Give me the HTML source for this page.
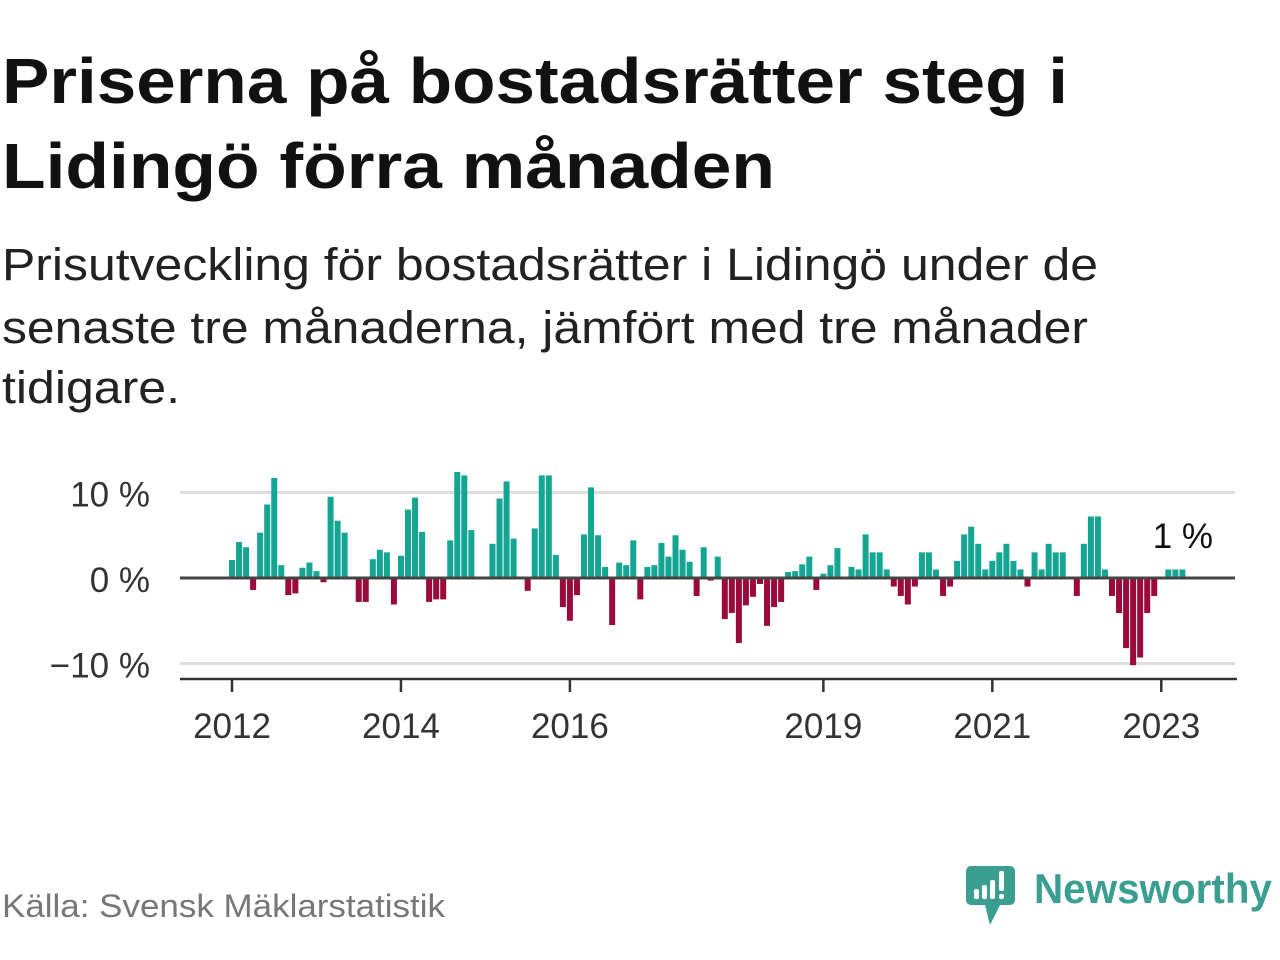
<!DOCTYPE html>
<html><head><meta charset="utf-8">
<style>
html,body{margin:0;padding:0;background:#fff;}
svg{display:block;font-family:"Liberation Sans",sans-serif;}
</style></head>
<body>
<svg width="1280" height="960" viewBox="0 0 1280 960" xmlns="http://www.w3.org/2000/svg">
  <text x="2" y="103" font-size="64" font-weight="bold" fill="#111" textLength="1066" lengthAdjust="spacingAndGlyphs">Priserna på bostadsrätter steg i</text>
  <text x="2" y="188" font-size="64" font-weight="bold" fill="#111" textLength="773" lengthAdjust="spacingAndGlyphs">Lidingö förra månaden</text>
  <text x="2" y="280" font-size="45" fill="#222" textLength="1096" lengthAdjust="spacingAndGlyphs">Prisutveckling för bostadsrätter i Lidingö under de</text>
  <text x="2" y="343" font-size="45" fill="#222" textLength="1086" lengthAdjust="spacingAndGlyphs">senaste tre månaderna, jämfört med tre månader</text>
  <text x="2" y="403" font-size="45" fill="#222" textLength="178" lengthAdjust="spacingAndGlyphs">tidigare.</text>

  <g id="chart"></g>

  <text x="2" y="917" font-size="32" fill="#777" textLength="443" lengthAdjust="spacingAndGlyphs">Källa: Svensk Mäklarstatistik</text>

  <g>
    <path d="M971 866 H1010 a5 5 0 0 1 5 5 V900 a5 5 0 0 1 -5 5 H1000 L990 925 L985 905 H971 a5 5 0 0 1 -5 -5 V871 a5 5 0 0 1 5 -5 Z" fill="#3a9e91"/>
    <rect x="974" y="889" width="5" height="10" rx="2" fill="#fff"/>
    <rect x="982" y="885" width="5" height="14" rx="2" fill="#fff"/>
    <rect x="990" y="880" width="5" height="19" rx="2" fill="#fff"/>
    <rect x="999" y="871" width="5" height="20" rx="2" fill="#fff"/>
    <rect x="999" y="894" width="5" height="5" rx="2" fill="#fff"/>
    <text x="1034" y="903" font-size="42" font-weight="bold" fill="#3a9e91" textLength="238" lengthAdjust="spacingAndGlyphs">Newsworthy</text>
  </g>
</svg>
<script>
const values = [2.1,4.2,3.6,-1.4,5.3,8.6,11.7,1.5,-2.0,-1.8,1.2,1.8,0.8,-0.5,9.5,6.7,5.3,0,-2.8,-2.8,2.2,3.3,3.0,-3.1,
2.6,8.0,9.4,5.4,-2.8,-2.5,-2.5,4.4,12.4,12.0,5.6,0,0,4.0,9.3,11.3,4.6,0,-1.5,5.8,12.0,12.0,2.7,-3.4,-5.0,
-2.0,5.1,10.6,5.0,1.3,-5.5,1.8,1.5,4.4,-2.5,1.3,1.5,4.1,2.5,5.0,3.3,1.9,-2.1,3.6,-0.3,2.5,-4.8,-4.1,-7.6,
-3.2,-2.2,-0.7,-5.6,-3.4,-2.8,0.7,0.8,1.6,2.5,-1.4,0.5,1.5,3.5,0,1.3,1.0,5.1,3.0,3.0,1.0,-1.0,-2.1,-3.1,
-1.0,3.0,3.0,1.0,-2.1,-1.0,2.0,5.1,6.0,4.0,1.0,2.0,3.0,4.0,2.0,1.0,-1.0,3.0,1.0,4.0,3.0,3.0,0,-2.1,
4.0,7.2,7.2,1.0,-2.1,-4.1,-8.2,-10.2,-9.3,-4.1,-2.1,0,1.0,1.0,1.0];
const yTicks = [10, 0, -10];
const yTickLabels = ["10 %", "0 %", "\u221210 %"];
const xTickIndex = [0, 24, 48, 84, 108, 132];
const xTickLabels = ["2012", "2014", "2016", "2019", "2021", "2023"];
const lastLabel = "1 %";

const NS = "http://www.w3.org/2000/svg";
const g = document.getElementById("chart");
const x0 = 232, step = 7.04, bw = 6;
const xScale = i => x0 + i * step;
const yScale = v => 578 - v * 8.55;
function mk(tag, attrs){ const e = document.createElementNS(NS, tag); for (const k in attrs) e.setAttribute(k, attrs[k]); g.appendChild(e); return e; }

yTicks.forEach((t, i) => {
  if (t !== 0) {
    const l = mk("line", {x1:180, x2:1235, y1:yScale(t), y2:yScale(t), stroke:"#dedede", "stroke-width":3});
    
    
  }
  const tx = mk("text", {x:150, y:yScale(t)+14, "font-size":35, fill:"#333", "text-anchor":"end"});
  tx.textContent = yTickLabels[i];
  
  
});

values.forEach((v, i) => {
  if (v === 0) return;
  const y = v > 0 ? yScale(v) : yScale(0);
  const h = Math.abs(yScale(v) - yScale(0));
  const r = mk("rect", {x:xScale(i)-bw/2, y:y, width:bw, height:h, fill: v > 0 ? "#14a593" : "#9c0a3c"});
  
  
});

const zl = mk("line", {x1:180, x2:1235, y1:yScale(0), y2:yScale(0), stroke:"#444", "stroke-width":3});



const ax = mk("line", {x1:180, x2:1237, y1:679, y2:679, stroke:"#333", "stroke-width":2.5});



xTickIndex.forEach((idx, i) => {
  const tk = mk("line", {x1:xScale(idx), x2:xScale(idx), y1:679, y2:692, stroke:"#333", "stroke-width":2.5});
  
  
  const tl = mk("text", {x:xScale(idx), y:738, "font-size":35, fill:"#333", "text-anchor":"middle"});
  tl.textContent = xTickLabels[i];
  
  
});

const ll = mk("text", {x:1213, y:548, "font-size":35, fill:"#111", "text-anchor":"end"});
ll.textContent = lastLabel;


</script>
</body></html>
